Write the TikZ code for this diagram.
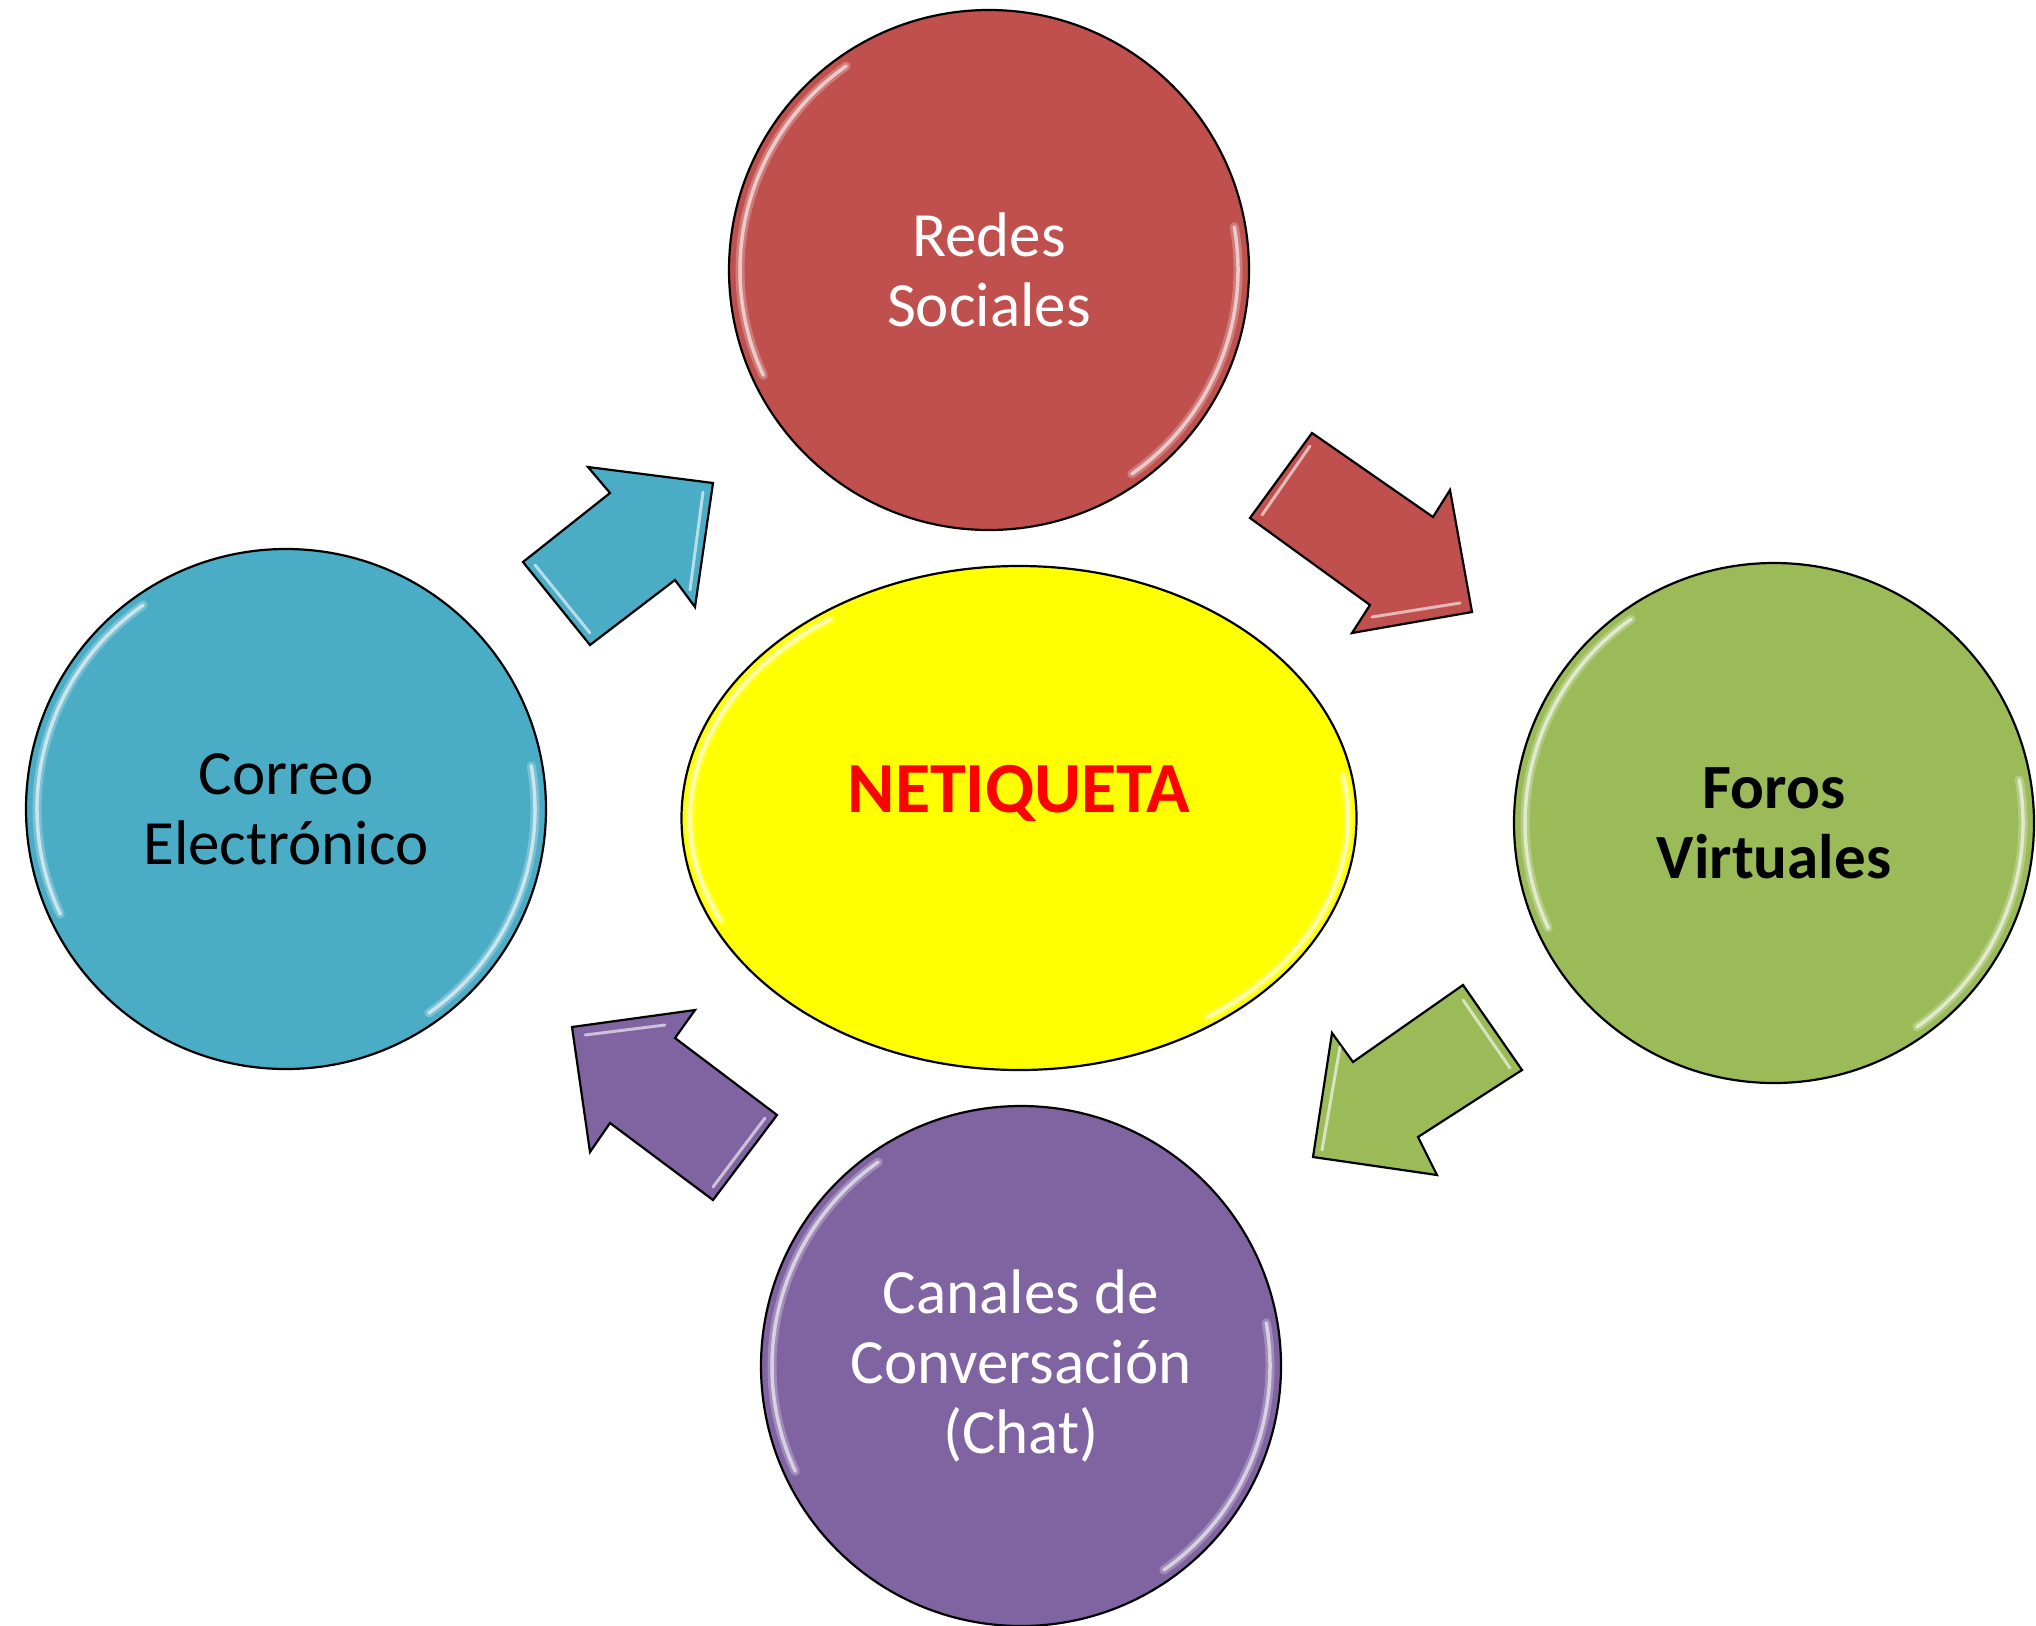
\documentclass[tikz,border=0pt]{standalone}
\usepackage{fontspec}
\setmainfont{Carlito}
\usetikzlibrary{shapes.geometric}
\definecolor{cred}{HTML}{C0504D}
\definecolor{cblue}{HTML}{4BACC6}
\definecolor{cgreen}{HTML}{9BBB59}
\definecolor{cpurple}{HTML}{8064A2}
\definecolor{cyellow}{HTML}{FFFF00}
\definecolor{ctext}{HTML}{FF0000}
\tikzset{
  bubble/.style={circle, draw=black, line width=2.2, minimum size=520, inner sep=0, align=center,
    font=\fontsize{63}{70}\selectfont},
  blockarrow/.style={draw=black, line width=2.2, line join=miter},
  gloss/.style={white, opacity=0.25, line width=9, line cap=round},
  glosscore/.style={white, opacity=0.6, line width=3.5, line cap=round},
}
\begin{document}
\begin{tikzpicture}[x=1pt, y=-1pt]
\useasboundingbox (0,0) rectangle (2036,1625);
% centre ellipse
\node[ellipse, draw=black, line width=2.2, fill=cyellow, minimum width=675, minimum height=504, inner sep=0] (center) at (1019,818) {};
\foreach \s in {gloss,glosscore}{
  \draw[\s] (center.center) ++(-205:329 and 243) arc[start angle=-205, end angle=-125, x radius=329, y radius=243];
  \draw[\s] (center.center) ++(-10:329 and 243) arc[start angle=-10, end angle=55, x radius=329, y radius=243];
}
\node[font=\fontsize{72}{80}\selectfont\bfseries, text=ctext] (netq) at (1019,793) {NETIQUETA};
% satellite circles
\node[bubble, fill=cred, text=white] (redes) at (989,270) {Redes\\Sociales};
\node[bubble, fill=cblue, text=black] (correo) at (286,809) {Correo\\Electrónico};
\node[bubble, fill=cgreen, text=black, font=\fontsize{63}{70}\selectfont\bfseries] (foros) at (1774,823) {Foros\\Virtuales};
\node[bubble, fill=cpurple, text=white] (canales) at (1021,1366) {Canales de\\Conversación\\(Chat)};
% gloss highlights on circles
\foreach \n in {redes,correo,foros,canales}{
  \foreach \s in {gloss,glosscore}{
    \draw[\s] (\n.center) ++(-205:249) arc[start angle=-205, end angle=-125, radius=249];
    \draw[\s] (\n.center) ++(-10:249) arc[start angle=-10, end angle=55, radius=249];
  }
}
% block arrows
\draw[blockarrow, fill=cblue] (523,562) -- (610,493) -- (588,467) -- (713,483) -- (695,607) -- (675,580) -- (590,645) -- cycle;
\draw[glosscore, line width=3] (535,565) -- (590,633);
\draw[glosscore, line width=3] (703,492) -- (690,590);
\draw[blockarrow, fill=cred] (1312,433) -- (1433,517) -- (1450,490) -- (1472,612) -- (1352,633) -- (1370,605) -- (1250,518) -- cycle;
\draw[glosscore, line width=3] (1310,446) -- (1262,515);
\draw[glosscore, line width=3] (1372,617) -- (1460,603);
\draw[blockarrow, fill=cgreen] (1463,985) -- (1522,1070) -- (1418,1137) -- (1437,1175) -- (1313,1157) -- (1332,1033) -- (1353,1062) -- cycle;
\draw[glosscore, line width=3] (1463,1000) -- (1510,1068);
\draw[glosscore, line width=3] (1340,1047) -- (1322,1150);
\draw[blockarrow, fill=cpurple] (572,1027) -- (695,1010) -- (675,1038) -- (777,1115) -- (713,1200) -- (610,1123) -- (590,1152) -- cycle;
\draw[glosscore, line width=3] (585,1035) -- (665,1025);
\draw[glosscore, line width=3] (765,1118) -- (713,1187);
\end{tikzpicture}
\end{document}
